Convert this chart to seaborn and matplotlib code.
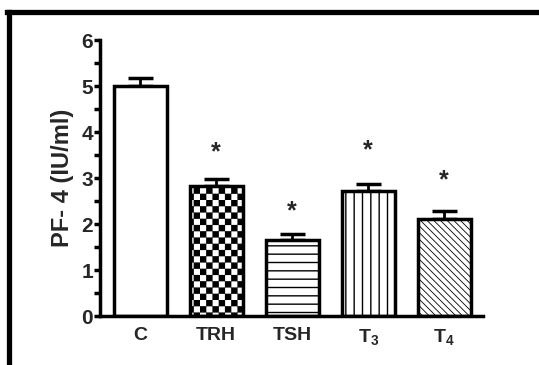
import warnings
import numpy as np
import pandas as pd
import matplotlib
matplotlib.use("Agg")
import matplotlib.pyplot as plt
import seaborn as sns
from matplotlib import hatch as mhatch
from matplotlib.lines import Line2D
from matplotlib.path import Path
from matplotlib.ticker import MultipleLocator
from matplotlib.transforms import offset_copy

warnings.filterwarnings("ignore")

groups = ["C", "TRH", "TSH", "T3", "T4"]
tick_labels = ["C", "TRH", "TSH", r"$\mathbf{T_3}$", r"$\mathbf{T_4}$"]
means = [5.0, 2.83, 1.65, 2.72, 2.12]
sem = [0.18, 0.14, 0.13, 0.16, 0.16]
star_y = [np.nan, 3.72, 2.43, 3.76, 3.10]
hatches = ["", "c", "--", "||", "\\\\\\\\\\"]


class CheckerHatch(mhatch.HatchPatternBase):
    """Checkerboard fill, triggered by the 'c' hatch character."""

    def __init__(self, hatch, density):
        self.k = 16 * hatch.count("c")
        self.num_vertices = self.k * (self.k // 2) * 5

    def set_vertices_and_codes(self, vertices, codes):
        k = self.k
        s = 1.0 / k
        inset = 0.006
        n = 0
        for i in range(k):
            for j in range(k // 2):
                x0 = (2 * j + i % 2) * s + inset
                y0 = i * s + inset
                x1, y1 = x0 + s - 2 * inset, y0 + s - 2 * inset
                vertices[n:n + 5] = [(x0, y0), (x1, y0), (x1, y1), (x0, y1), (x0, y0)]
                codes[n:n + 5] = [Path.MOVETO, Path.LINETO, Path.LINETO,
                                  Path.LINETO, Path.CLOSEPOLY]
                n += 5


mhatch._hatch_types.append(CheckerHatch)

sns.set_style("white")
plt.rcParams["font.family"] = ["Liberation Sans", "DejaVu Sans"]
plt.rcParams["font.weight"] = "bold"
plt.rcParams["mathtext.fontset"] = "custom"
plt.rcParams["mathtext.bf"] = "Liberation Sans:bold"
plt.rcParams["mathtext.rm"] = "Liberation Sans:bold"
plt.rcParams["hatch.linewidth"] = 1.0
plt.rcParams["hatch.color"] = "black"

df = pd.DataFrame({"group": groups, "value": means})

fig = plt.figure(figsize=(5.39, 3.65), dpi=100)
ax = fig.add_axes([0.1855, 0.134, 0.7105, 0.756])

sns.barplot(data=df, x="group", y="value", color="white", saturation=1,
            edgecolor="black", linewidth=2.5, width=0.7, errorbar=None, ax=ax)
for patch, h in zip(ax.patches, hatches):
    patch.set_hatch(h)
    patch.set_zorder(2)
    if h.startswith("\\") and hasattr(patch, "set_hatch_linewidth"):
        patch.set_hatch_linewidth(0.6)

x = np.arange(len(groups))
ax.errorbar(x, means, yerr=[np.zeros(len(sem)), sem], fmt="none",
            ecolor="black", elinewidth=2, capsize=9, capthick=2.5, zorder=1)

star_tr = offset_copy(ax.transData, fig=fig, y=-10, units="points")
for xi, yi in zip(x, star_y):
    if not np.isnan(yi):
        ax.text(xi, yi, "*", ha="center", va="baseline", fontsize=18,
                fontweight="bold", transform=star_tr)

ax.set_xlim(-0.53, 4.51)
ax.set_ylim(0, 6)
ax.yaxis.set_major_locator(MultipleLocator(1))
ax.yaxis.set_minor_locator(MultipleLocator(0.5))
ax.set_xticks(x)
ax.set_xticklabels(tick_labels)
ax.set_xlabel("")
ax.set_ylabel("PF- 4 (IU/ml)", fontsize=17, fontweight="bold", labelpad=5)

sns.despine(ax=ax)
for side in ["left", "bottom"]:
    ax.spines[side].set_linewidth(2.5)
    ax.spines[side].set_color("black")
ax.tick_params(axis="y", which="both", left=True, length=4, width=2.5,
               direction="out", pad=1, labelsize=15, color="black")
ax.tick_params(axis="x", length=0, pad=8, labelsize=14)

# frame edges of the original figure panel
fig.add_artist(Line2D([0.013, 1.0], [0.967, 0.967], color="black", lw=3.8,
                      transform=fig.transFigure, solid_capstyle="projecting"))
fig.add_artist(Line2D([0.0176, 0.0176], [0.0, 0.967], color="black", lw=3.8,
                      transform=fig.transFigure, solid_capstyle="projecting"))

fig.savefig("out.png", dpi=100)
